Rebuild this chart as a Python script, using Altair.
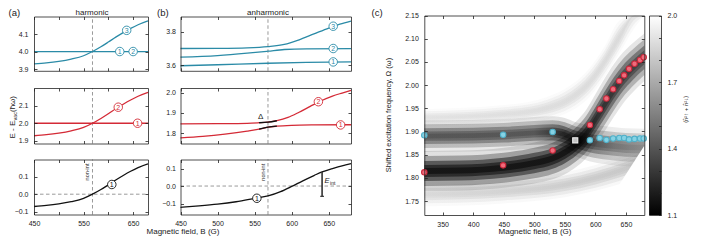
import altair as alt
import pandas as pd

W, H = 693, 228
FONT = "Liberation Sans"
INK = "#222222"
TEAL = "#2b8ba7"
RED = "#d42a36"
DASHC = "#9a9a9a"

# ------------------------------------------------------------------ data
B_RES = 568  # non-interacting resonance (dashed line)

# (a) harmonic
a_B = [450, 475, 500, 525, 550, 568, 585, 600, 615, 630, 645, 660, 680]
a_top_rise = [3.929, 3.935, 3.944, 3.957, 3.976, 4.000, 4.027, 4.054, 4.082, 4.108, 4.132, 4.153, 4.175]
a_mid_rise = [1.929, 1.935, 1.944, 1.957, 1.976, 2.000, 2.027, 2.054, 2.082, 2.108, 2.132, 2.153, 2.175]
a_bot = [-0.071, -0.065, -0.056, -0.043, -0.024, 0.000, 0.027, 0.054, 0.082, 0.108, 0.132, 0.153, 0.175]
a_flat_B = [450, 680]
a_top_flat = [4.0, 4.0]
a_mid_flat = [2.0, 2.0]
a_top_tag_B = [637, 623, 650]
a_top_tag_v = [4.121, 4.0, 4.0]
a_top_tag = ["3", "1", "2"]
a_mid_tag_B = [620, 659]
a_mid_tag_v = [2.091, 2.0]
a_mid_tag = ["2", "1"]
a_bot_tag_B = [607]
a_bot_tag_v = [0.056]
a_bot_tag = ["1"]
a_nonint_v = 0.128

# (b) anharmonic
b_top1_B = [450, 500, 568, 620, 680]
b_top1 = [3.597, 3.603, 3.612, 3.617, 3.620]
b_top2_B = [450, 500, 540, 568, 590, 620, 680]
b_top2 = [3.649, 3.658, 3.672, 3.684, 3.694, 3.698, 3.699]
b_top3_B = [450, 500, 540, 568, 590, 610, 630, 650, 665, 680]
b_top3 = [3.700, 3.701, 3.704, 3.711, 3.724, 3.752, 3.787, 3.822, 3.845, 3.864]
b_top_tag_B = [656, 656, 656]
b_top_tag_v = [3.833, 3.700, 3.620]
b_top_tag = ["3", "2", "1"]
b_mid1_B = [450, 480, 510, 540, 556, 568, 580, 600, 630, 680]
b_mid1 = [1.776, 1.783, 1.794, 1.809, 1.819, 1.829, 1.834, 1.838, 1.840, 1.841]
b_mid2_B = [450, 500, 540, 556, 568, 580, 595, 610, 625, 640, 655, 668, 680]
b_mid2 = [1.845, 1.846, 1.848, 1.851, 1.854, 1.861, 1.877, 1.903, 1.932, 1.960, 1.983, 1.998, 2.011]
b_gap_B = [556, 568, 580]
b_gap_hi = [1.851, 1.854, 1.861]
b_gap_lo = [1.819, 1.829, 1.834]
b_delta_B, b_delta_v = 558, 1.877
b_mid_tag_B = [636, 666]
b_mid_tag_v = [1.955, 1.840]
b_mid_tag = ["2", "1"]
b_bot_B = [450, 475, 500, 525, 550, 568, 585, 600, 615, 630, 641, 655, 668, 680]
b_bot = [-0.122, -0.114, -0.104, -0.090, -0.071, -0.057, -0.032, -0.002, 0.030, 0.060, 0.081, 0.100, 0.116, 0.128]
b_bot_tag_B = [553]
b_bot_tag_v = [-0.070]
b_bot_tag = ["1"]
b_nonint_v = 0.079
e_int_B, e_int_top, e_int_bot = 641, 0.081, -0.059
e_int_cap = [638.5, 643.5]

# (c) excitation spectrum
c_red_B = [320, 449, 530, 591, 607, 618, 629, 639, 647, 655, 664, 673, 679]
c_red = [1.812, 1.827, 1.859, 1.914, 1.948, 1.971, 1.991, 2.009, 2.021, 2.035, 2.046, 2.054, 2.060]
c_blue_B = [320, 449, 530, 591, 607, 618, 629, 639, 647, 655, 664, 673, 679]
c_blue = [1.892, 1.893, 1.899, 1.881, 1.886, 1.882, 1.885, 1.886, 1.886, 1.883, 1.884, 1.885, 1.885]
c_sq_B = [567]
c_sq = [1.881]

# heat-map ridges: centre, half width, grey level along B
bandA_B = [320, 380, 450, 500, 530, 550, 568, 585, 600, 615, 630, 645, 660, 680]
bandA_c = [1.815, 1.816, 1.822, 1.832, 1.842, 1.855, 1.872, 1.895, 1.925, 1.957, 1.988, 2.015, 2.036, 2.060]
bandA_hw = [0.043, 0.043, 0.043, 0.044, 0.045, 0.047, 0.049, 0.052, 0.055, 0.057, 0.057, 0.055, 0.053, 0.051]
bandA_sB = [320, 575, 605, 680]
bandA_sG = [0.0, 0.0, 0.12, 0.20]
bandB_B = [320, 400, 450, 500, 530, 550, 568, 590, 620, 650, 680]
bandB_c = [1.890, 1.891, 1.893, 1.897, 1.898, 1.893, 1.883, 1.875, 1.870, 1.866, 1.865]
bandB_hw = [0.034, 0.034, 0.034, 0.034, 0.035, 0.036, 0.037, 0.039, 0.041, 0.041, 0.041]
bandB_sB = [320, 500, 550, 590, 630, 680]
bandB_sG = [0.28, 0.28, 0.08, 0.22, 0.40, 0.50]
bandC_B = [320, 450, 550, 600, 650, 680]
bandC_c = [1.765, 1.771, 1.785, 1.800, 1.820, 1.835]
bandC_hw = [0.026, 0.026, 0.027, 0.028, 0.029, 0.029]
bandC_sB = [320, 680]
bandC_sG = [0.84, 0.76]
bandD_B = [320, 450, 520, 560, 590, 615, 640, 665, 680]
bandD_c = [1.930, 1.937, 1.950, 1.972, 2.005, 2.050, 2.105, 2.160, 2.190]
bandD_hw = [0.018, 0.020, 0.024, 0.028, 0.031, 0.033, 0.035, 0.035, 0.035]
bandD_sB = [320, 680]
bandD_sG = [0.88, 0.84]
wedge_B = [607, 680]
wedge_top = [1.720, 1.869]
wedge_bot = [1.720, 1.720]

# colour bar
cb_lo, cb_hi = 1.1, 2.0

# ticks
ab_xticks = [450, 500, 550, 600, 650]
a_xlabels = [450, 550, 650]
b_xlabels = [450, 500, 550, 600, 650]
a_top_y = [3.9, 4.0, 4.1]
a_mid_y = [1.9, 2.0, 2.1]
ab_bot_y = [-0.1, 0.0, 0.1]
b_top_y = [3.6, 3.8]
b_mid_y = [1.8, 1.9, 2.0]
c_xticks = [350, 400, 450, 500, 550, 600, 650]
c_yticks = [1.75, 1.80, 1.85, 1.90, 1.95, 2.00, 2.05, 2.10, 2.15]
cb_ticks = [1.1, 1.2, 1.3, 1.4, 1.5, 1.6, 1.7, 1.8, 1.9, 2.0]
cb_labels = [1.1, 1.4, 1.7, 2.0]

# ------------------------------------------------------------------ layout
A1 = dict(xd=[450, 680], xr=[26, 140], yd=[3.89, 4.20], yr=[8.5, 62.8])
A2 = dict(xd=[450, 680], xr=[26, 140], yd=[1.885, 2.20], yr=[80.0, 135.5])
A3 = dict(xd=[450, 680], xr=[26, 140], yd=[-0.117, 0.20], yr=[151.5, 206.5])
B1 = dict(xd=[450, 680], xr=[172.5, 343], yd=[3.567, 3.891], yr=[8.5, 62.8])
B2 = dict(xd=[450, 680], xr=[172.5, 343], yd=[1.748, 2.023], yr=[80.0, 135.5])
B3 = dict(xd=[450, 680], xr=[172.5, 343], yd=[-0.163, 0.152], yr=[151.5, 206.5])
C = dict(xd=[320, 680], xr=[416.3, 636.3], yd=[1.72, 2.15], yr=[7.5, 207.0])
CB = dict(xd=[0, 1], xr=[641, 653], yd=[cb_lo, cb_hi], yr=[7.5, 207.0])


def hexg(g):
    v = int(round(g * 255))
    return "#%02x%02x%02x" % (v, v, v)


def sx(p, clamp=False):
    return alt.Scale(domain=p["xd"], range=p["xr"], nice=False, zero=False, clamp=clamp)


def sy(p, clamp=False):
    return alt.Scale(domain=p["yd"], range=[p["yr"][1], p["yr"][0]], nice=False, zero=False, clamp=clamp)


def ax(orient, pos, values, labels=False, ticks=True, domain=True, fmt=None, pad=5, tsize=3):
    off = {"bottom": pos - H, "top": -pos, "left": -pos, "right": pos - W}[orient]
    kw = dict(orient=orient, offset=off, values=values, labels=labels, ticks=ticks,
              domain=domain, title=None, grid=False, minExtent=0, zindex=1,
              domainColor=INK, domainWidth=0.8, tickColor=INK, tickWidth=0.8,
              tickSize=tsize, labelFont=FONT, labelFontSize=7, labelColor=INK,
              labelFlush=False, labelOverlap=False, labelPadding=pad)
    if fmt:
        kw["format"] = fmt
    return alt.Axis(**kw)


def frame(p, xt, yt, xl=None, yl=None, xfmt="d", yfmt=".1f", xpad=5, ypad=5):
    x0, x1 = p["xr"]
    ytop, ybot = p["yr"]
    df = pd.DataFrame({"x": [p["xd"][0]], "y": [p["yd"][0]]})
    base = alt.Chart(df).mark_point(opacity=0)

    def X(a):
        return alt.X("x:Q", scale=sx(p), axis=a)

    def Y(a):
        return alt.Y("y:Q", scale=sy(p), axis=a)

    out = [
        base.encode(x=X(ax("top", ybot, xt)), y=Y(ax("right", x0, yt))),
        base.encode(x=X(ax("bottom", ytop, xt)), y=Y(ax("left", x1, yt))),
    ]
    if xl is not None or yl is not None:
        xa = ax("bottom", ybot, xl, labels=True, ticks=False, domain=False, fmt=xfmt, pad=xpad) if xl is not None else None
        ya = ax("left", x0, yl, labels=True, ticks=False, domain=False, fmt=yfmt, pad=ypad) if yl is not None else None
        out.append(base.encode(x=X(xa), y=Y(ya)))
    return out


def enc(p, xf="B", yf="v", clamp=False):
    return dict(x=alt.X(xf + ":Q", scale=sx(p), axis=None),
                y=alt.Y(yf + ":Q", scale=sy(p, clamp), axis=None))


def line(p, B, v, color, width=1.3):
    df = pd.DataFrame({"B": B, "v": v})
    return alt.Chart(df).mark_line(color=color, strokeWidth=width, interpolate="monotone").encode(**enc(p))


def tags(p, B, v, t, color):
    df = pd.DataFrame({"B": B, "v": v, "t": t})
    base = alt.Chart(df).encode(**enc(p))
    return [
        base.mark_point(shape="circle", size=72, filled=True, fill="white", stroke=color,
                        strokeWidth=0.9, opacity=1),
        base.mark_text(font=FONT, fontSize=7, color=color, baseline="middle", dy=0.5).encode(text="t:N"),
    ]


def vdash(p, B):
    df = pd.DataFrame({"B": [B], "y0": [p["yd"][0]], "y1": [p["yd"][1]]})
    return alt.Chart(df).mark_rule(color=DASHC, strokeDash=[3.5, 2.5], strokeWidth=1).encode(
        x=alt.X("B:Q", scale=sx(p), axis=None), y=alt.Y("y0:Q", scale=sy(p), axis=None), y2="y1:Q")


def hdash(p, v):
    df = pd.DataFrame({"x0": [p["xd"][0]], "x1": [p["xd"][1]], "v": [v]})
    return alt.Chart(df).mark_rule(color=DASHC, strokeDash=[3.5, 2.5], strokeWidth=1).encode(
        x=alt.X("x0:Q", scale=sx(p), axis=None), x2="x1:Q", y=alt.Y("v:Q", scale=sy(p), axis=None))


# nested half-width fractions and opacities give a soft, Gaussian-like ridge profile
FRACS = [1.0, 0.75, 0.5, 0.3, 0.15]
ALPHAS = [0.12, 0.28, 0.45, 0.5, 0.5]


def band(B, c, hw, sB, sG):
    span = C["xd"][1] - C["xd"][0]
    grad = alt.LinearGradient(
        gradient="linear", x1=0, y1=0, x2=1, y2=0,
        stops=[alt.GradientStop(color=hexg(g), offset=(b - C["xd"][0]) / span) for b, g in zip(sB, sG)])
    out = []
    for f, a in zip(FRACS, ALPHAS):
        df = pd.DataFrame({"B": B,
                           "lo": [ci - f * h for ci, h in zip(c, hw)],
                           "hi": [ci + f * h for ci, h in zip(c, hw)]})
        out.append(alt.Chart(df).mark_area(color=grad, opacity=a, interpolate="monotone").encode(
            x=alt.X("B:Q", scale=sx(C), axis=None),
            y=alt.Y("lo:Q", scale=sy(C, True), axis=None), y2="hi:Q"))
    return out


def dots(B, v, fill, stroke, size=30, shape="circle"):
    df = pd.DataFrame({"B": B, "v": v})
    return alt.Chart(df).mark_point(shape=shape, size=size, filled=True, fill=fill, stroke=stroke,
                                    strokeWidth=1.1, opacity=1).encode(**enc(C))


def txt(s, x, y, size=8, angle=0, align="center", baseline="alphabetic", style=None, color=INK):
    kw = dict(font=FONT, fontSize=size, align=align, baseline=baseline, color=color)
    if angle:
        kw["angle"] = angle
    if style:
        kw["fontStyle"] = style
    return alt.Chart(pd.DataFrame({"t": [s]})).mark_text(**kw).encode(
        x=alt.value(x), y=alt.value(y), text="t:N")


def dtext(p, B, v, s, **kw):
    df = pd.DataFrame({"B": [B], "v": [v], "t": [s]})
    return alt.Chart(df).mark_text(font=FONT, **kw).encode(text="t:N", **enc(p))


layers = []

# ---------------- panel (c) heat map
layers += band(bandD_B, bandD_c, bandD_hw, bandD_sB, bandD_sG)
layers += band(bandC_B, bandC_c, bandC_hw, bandC_sB, bandC_sG)
layers += band(bandB_B, bandB_c, bandB_hw, bandB_sB, bandB_sG)
layers += band(bandA_B, bandA_c, bandA_hw, bandA_sB, bandA_sG)
wdf = pd.DataFrame({"B": wedge_B, "top": wedge_top, "bot": wedge_bot})
layers.append(alt.Chart(wdf).mark_area(color="white", opacity=1).encode(
    x=alt.X("B:Q", scale=sx(C), axis=None), y=alt.Y("top:Q", scale=sy(C), axis=None), y2="bot:Q"))
layers.append(dots(c_red_B, c_red, "#ef6b7b", "#c9283b"))
layers.append(dots(c_blue_B, c_blue, "#86d2e4", "#4fb0c9"))
layers.append(dots(c_sq_B, c_sq, "#c4c4c4", "#eeeeee", size=26, shape="square"))
layers += frame(C, c_xticks, c_yticks, c_xticks, c_yticks, xfmt="d", yfmt=".2f", ypad=6)

# colour bar
cbdf = pd.DataFrame({"x0": [0], "x1": [1], "y0": [cb_lo], "y1": [cb_hi]})
cbgrad = alt.LinearGradient(gradient="linear", x1=0, y1=1, x2=0, y2=0,
                            stops=[alt.GradientStop(color="#000000", offset=0),
                                   alt.GradientStop(color="#ffffff", offset=1)])
layers.append(alt.Chart(cbdf).mark_rect(color=cbgrad).encode(
    x=alt.X("x0:Q", scale=sx(CB), axis=None), x2="x1:Q",
    y=alt.Y("y0:Q", scale=sy(CB), axis=None), y2="y1:Q"))
cbb = alt.Chart(pd.DataFrame({"x": [0], "y": [cb_lo]})).mark_point(opacity=0)
layers.append(cbb.encode(
    x=alt.X("x:Q", scale=sx(CB), axis=ax("bottom", CB["yr"][1], [0], ticks=False)),
    y=alt.Y("y:Q", scale=sy(CB), axis=ax("right", CB["xr"][1], cb_labels, labels=True, ticks=False, domain=False, fmt=".1f", pad=6))))
layers.append(cbb.encode(
    x=alt.X("x:Q", scale=sx(CB), axis=ax("top", CB["yr"][0], [0], ticks=False)),
    y=alt.Y("y:Q", scale=sy(CB), axis=ax("left", CB["xr"][1], cb_ticks, tsize=2.5))))
layers.append(cbb.encode(
    y=alt.Y("y:Q", scale=sy(CB), axis=ax("right", CB["xr"][0], cb_ticks, ticks=False))))

# ---------------- panel (a)
layers += [vdash(A1, B_RES), vdash(A2, B_RES), vdash(A3, B_RES), hdash(A3, 0.0)]
layers += [line(A1, a_flat_B, a_top_flat, TEAL), line(A1, a_B, a_top_rise, TEAL)]
layers += tags(A1, a_top_tag_B, a_top_tag_v, a_top_tag, TEAL)
layers += [line(A2, a_flat_B, a_mid_flat, RED), line(A2, a_B, a_mid_rise, RED)]
layers += tags(A2, a_mid_tag_B, a_mid_tag_v, a_mid_tag, RED)
layers += [line(A3, a_B, a_bot, "#111111")]
layers += tags(A3, a_bot_tag_B, a_bot_tag_v, a_bot_tag, "#111111")
layers.append(dtext(A3, B_RES, a_nonint_v, "non-int", angle=270, fontSize=5.5, baseline="middle", dy=-5, color=INK))
layers += frame(A1, ab_xticks, a_top_y, None, a_top_y, ypad=6)
layers += frame(A2, ab_xticks, a_mid_y, None, a_mid_y, ypad=6)
layers += frame(A3, ab_xticks, ab_bot_y, a_xlabels, ab_bot_y, ypad=6)

# ---------------- panel (b)
layers += [vdash(B1, B_RES), vdash(B2, B_RES), vdash(B3, B_RES), hdash(B3, 0.0)]
layers += [line(B1, b_top1_B, b_top1, TEAL), line(B1, b_top2_B, b_top2, TEAL), line(B1, b_top3_B, b_top3, TEAL)]
layers += tags(B1, b_top_tag_B, b_top_tag_v, b_top_tag, TEAL)
layers += [line(B2, b_mid1_B, b_mid1, RED), line(B2, b_mid2_B, b_mid2, RED)]
layers += [line(B2, b_gap_B, b_gap_hi, "#111111", 1.4), line(B2, b_gap_B, b_gap_lo, "#111111", 1.4)]
layers.append(dtext(B2, b_delta_B, b_delta_v, "\u0394", fontSize=8, baseline="middle", color=INK))
layers += tags(B2, b_mid_tag_B, b_mid_tag_v, b_mid_tag, RED)
layers += [line(B3, b_bot_B, b_bot, "#111111")]
edf = pd.DataFrame({"B": [e_int_B], "v0": [e_int_top], "v1": [e_int_bot]})
layers.append(alt.Chart(edf).mark_rule(color="#333333", strokeWidth=1.6).encode(
    x=alt.X("B:Q", scale=sx(B3), axis=None), y=alt.Y("v0:Q", scale=sy(B3), axis=None), y2="v1:Q"))
cdf = pd.DataFrame({"x0": [e_int_cap[0]], "x1": [e_int_cap[1]], "v": [e_int_bot]})
layers.append(alt.Chart(cdf).mark_rule(color="#333333", strokeWidth=1.2).encode(
    x=alt.X("x0:Q", scale=sx(B3), axis=None), x2="x1:Q", y=alt.Y("v:Q", scale=sy(B3), axis=None)))
layers.append(dtext(B3, e_int_B, 0.030, "E", fontSize=7.5, fontStyle="italic", align="left", baseline="middle", dx=2.5, color=INK))
layers.append(dtext(B3, e_int_B, 0.030, "int", fontSize=5, align="left", baseline="middle", dx=8, dy=2.5, color=INK))
layers += tags(B3, b_bot_tag_B, b_bot_tag_v, b_bot_tag, "#111111")
layers.append(dtext(B3, B_RES, b_nonint_v, "non-int", angle=270, fontSize=5.5, baseline="middle", dy=-5, color=INK))
layers += frame(B1, ab_xticks, b_top_y, None, b_top_y)
layers += frame(B2, ab_xticks, b_mid_y, None, b_mid_y)
layers += frame(B3, ab_xticks, ab_bot_y, b_xlabels, ab_bot_y)

# ---------------- titles / labels
layers += [
    txt("(a)", 0.5, 7.5, size=9.5, align="left"),
    txt("(b)", 149, 7.5, size=9.5, align="left"),
    txt("(c)", 363.5, 7.5, size=9.5, align="left"),
    txt("harmonic", 84, 6.5, size=8),
    txt("anharmonic", 260, 6.5, size=8),
    txt("Magnetic field, B (G)", 175, 226, size=8),
    txt("Magnetic field, B (G)", 527, 226, size=8),
    txt("E - E", 5, 130.5, size=8, angle=270, align="left", baseline="middle"),
    txt("vac", 7, 112.5, size=5.5, angle=270, align="left", baseline="middle"),
    txt(" (\u0127\u03c9)", 5, 104, size=8, angle=270, align="left", baseline="middle"),
    txt("Shifted excitation frequency, \u03a9 (\u03c9)", 381, 107, size=7.5, angle=270, baseline="middle"),
    txt("\u27e8n\u0302\u00b2\u2191 + n\u0302\u00b2\u2193\u27e9", 678, 101.5, size=6, angle=270, baseline="middle"),
]

chart = alt.layer(*layers).resolve_scale(x="independent", y="independent").resolve_axis(
    x="independent", y="independent").properties(
    width=W, height=H, padding=0, autosize=alt.AutoSizeParams(type="none")).configure_view(strokeWidth=0)

chart.save("out.html", embed_options={"renderer": "svg", "actions": False})
